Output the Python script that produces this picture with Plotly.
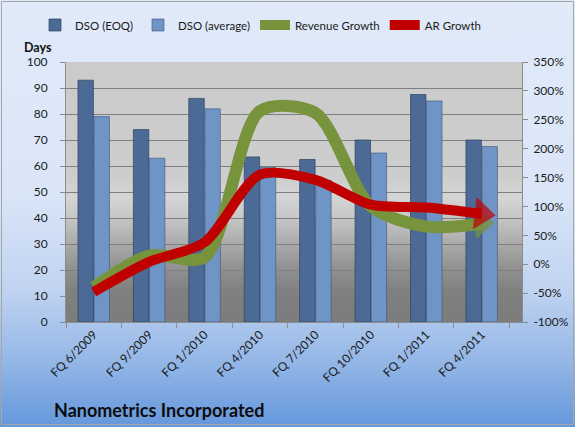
import base64
import plotly.graph_objects as go

# ---------------- data ----------------
quarters = ["FQ 6/2009", "FQ 9/2009", "FQ 1/2010", "FQ 4/2010",
            "FQ 7/2010", "FQ 10/2010", "FQ 1/2011", "FQ 4/2011"]
dso_eoq = [93, 74, 86, 63.5, 62.5, 70, 87.5, 70]
dso_avg = [79, 63, 82, 59.5, 54.5, 65, 85, 67.5]
revenue_growth = [-40, 15, 12, 265, 262, 100, 65, 70]   # percent
ar_growth = [-48, 4, 38, 155, 146, 103, 98, 87]          # percent
left_ticks = list(range(0, 101, 10))
right_ticks = list(range(-100, 351, 50))
right_labels = [f"{v}%" for v in right_ticks]

# ---------------- geometry ----------------
W, H = 575, 427
ML, MR, MT, MB = 66, 53, 62, 105
PW, PH = W - ML - MR, H - MT - MB

FONT = "Lato"


def svg_gradient(stops):
    st = "".join(f'<stop offset="{o}" stop-color="{c}"/>' for o, c in stops)
    svg = ('<svg xmlns="http://www.w3.org/2000/svg" width="100" height="100" '
           'viewBox="0 0 100 100" preserveAspectRatio="none">'
           f'<defs><linearGradient id="g" x1="0" y1="0" x2="0" y2="1">{st}</linearGradient></defs>'
           '<rect x="0" y="0" width="100" height="100" fill="url(#g)"/></svg>')
    return "data:image/svg+xml;base64," + base64.b64encode(svg.encode()).decode()


bg_src = svg_gradient([(0, "#E0EAF9"), (0.45, "#DAE6F8"), (0.68, "#C0D3F1"),
                       (0.85, "#93B6E6"), (1, "#6497DC")])
plot_src = svg_gradient([(0, "#CBCBCB"), (0.44, "#CDCDCD"), (0.52, "#D5D5D5"),
                         (0.6, "#C6C6C6"), (0.78, "#949494"), (0.88, "#808080"),
                         (1, "#7C7C7C")])

fig = go.Figure()

fig.add_trace(go.Bar(
    x=quarters, y=dso_eoq, name="DSO (EOQ)",
    marker=dict(color="#4B6B96", line=dict(color="rgba(45,65,95,0.7)", width=1)),
))
fig.add_trace(go.Bar(
    x=quarters, y=dso_avg, name="DSO (average)",
    marker=dict(color="#6F94C6", line=dict(color="rgba(60,85,125,0.6)", width=1)),
))

n = len(quarters)
sym = ["circle"] * (n - 1) + ["triangle-up"]
SMOOTH = 0.8

fig.add_trace(go.Scatter(
    x=quarters, y=revenue_growth, name="Revenue Growth", yaxis="y2",
    mode="lines+markers",
    line=dict(color="#77933C", width=12, shape="spline", smoothing=SMOOTH),
    marker=dict(symbol=sym, size=[0] * (n - 1) + [26], color="#77933C",
                angleref="previous", line=dict(width=0)),
))
fig.add_trace(go.Scatter(
    x=quarters, y=ar_growth, name="AR Growth", yaxis="y2",
    mode="lines+markers",
    line=dict(color="#C00000", width=10, shape="spline", smoothing=SMOOTH),
    marker=dict(symbol=sym, size=[0] * (n - 1) + [28], color="#C00000",
                angleref="previous", line=dict(width=0)),
))

fig.update_layout(
    width=W, height=H,
    margin=dict(l=ML, r=MR, t=MT, b=MB, pad=0, autoexpand=False),
    paper_bgcolor="#DDE8F8",
    plot_bgcolor="rgba(0,0,0,0)",
    font=dict(family=FONT, size=12, color="#1A1A1A"),
    barmode="group", bargap=0.42, bargroupgap=0.04,
    showlegend=True,
    legend=dict(orientation="h", xref="container", yref="container",
                x=35 / W, xanchor="left", y=1 - 25 / H, yanchor="middle",
                font=dict(family=FONT, size=11.5, color="#1A1A1A"),
                bgcolor="rgba(0,0,0,0)", itemwidth=30, tracegroupgap=0),
    xaxis=dict(
        type="category", tickangle=-45, tickson="boundaries", automargin=False,
        ticks="outside", ticklen=5, tickcolor="#8C8C8C",
        showline=True, linecolor="#8C8C8C", linewidth=1,
        showgrid=False, tickfont=dict(family=FONT, size=12, color="#1A1A1A"),
    ),
    yaxis=dict(
        range=[0, 100], tickvals=left_ticks, ticks="outside", ticklen=5,
        tickcolor="#8C8C8C", showline=True, linecolor="#8C8C8C", automargin=False,
        showgrid=True, gridcolor="#7F7F7F", gridwidth=1, zeroline=False,
        ticklabelstandoff=10,
        tickfont=dict(family=FONT, size=12, color="#1A1A1A"),
    ),
    yaxis2=dict(
        range=[-100, 350], tickvals=right_ticks, ticktext=right_labels,
        overlaying="y", side="right", ticks="outside", ticklen=5, automargin=False,
        tickcolor="#8C8C8C", showline=True, linecolor="#8C8C8C",
        showgrid=False, zeroline=False, ticklabelstandoff=3,
        tickfont=dict(family=FONT, size=12, color="#1A1A1A"),
    ),
    images=[
        dict(source=bg_src, xref="paper", yref="paper",
             x=-ML / PW, y=1 + MT / PH, sizex=W / PW, sizey=H / PH,
             xanchor="left", yanchor="top", sizing="stretch", layer="below"),
        dict(source=plot_src, xref="paper", yref="paper",
             x=0, y=1, sizex=1, sizey=1,
             xanchor="left", yanchor="top", sizing="stretch", layer="below"),
    ],
    shapes=[
        dict(type="rect", xref="paper", yref="paper",
             x0=(1.5 - ML) / PW, x1=(573.5 - ML) / PW,
             y0=(MT + PH - 424.5) / PH, y1=(MT + PH - 1.5) / PH,
             line=dict(color="#A6A6A6", width=1), fillcolor="rgba(0,0,0,0)",
             layer="above"),
    ],
    annotations=[
        dict(text="<b>Days</b>", xref="paper", yref="paper",
             x=(38 - ML) / PW, y=1 + (MT - 47) / PH, showarrow=False,
             xanchor="center", yanchor="middle",
             font=dict(family=FONT, size=12.5, color="#111111")),
        dict(text="<b>Nanometrics Incorporated</b>", xref="paper", yref="paper",
             x=(52 - ML) / PW, y=(MT + PH - 410) / PH, showarrow=False,
             xanchor="left", yanchor="middle",
             font=dict(family=FONT, size=18, color="#0D0D0D")),
    ],
)

fig.write_html("out.html")
